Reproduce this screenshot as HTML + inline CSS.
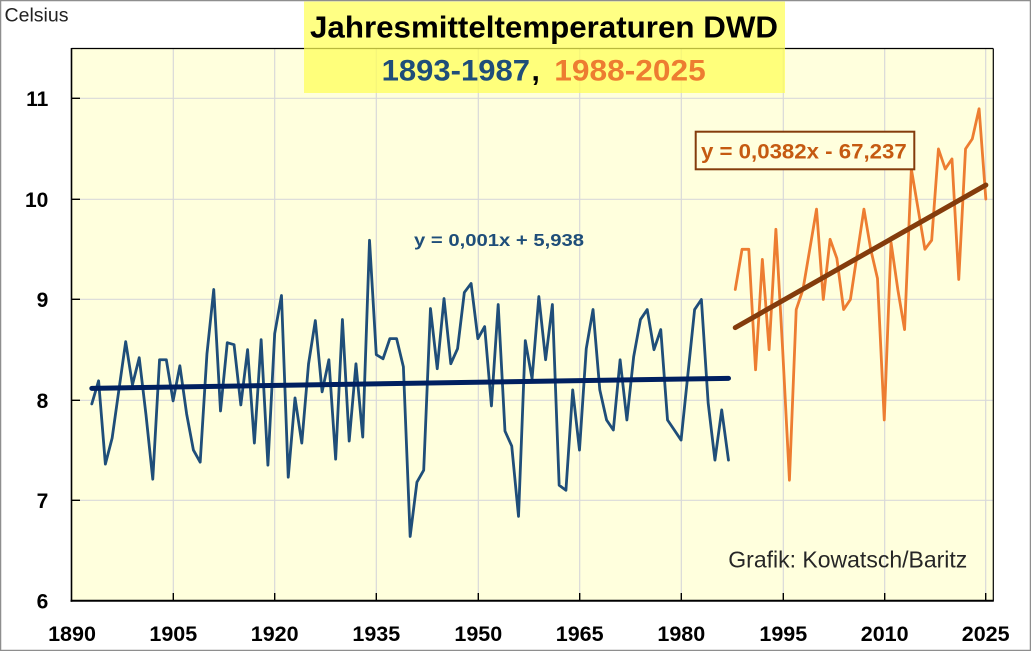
<!DOCTYPE html>
<html><head><meta charset="utf-8"><style>
html,body{margin:0;padding:0;background:#fff;}
svg{display:block;}
text{font-family:"Liberation Sans",Arial,sans-serif;}
</style></head><body>
<svg width="1031" height="651" viewBox="0 0 1031 651" xmlns="http://www.w3.org/2000/svg">
<rect x="0" y="0" width="1031" height="651" fill="#fff"/>
<!-- plot area -->
<rect x="71.5" y="48.5" width="921.8" height="552.2" fill="#FFFFDD"/>
<g stroke="#D9D9D9" stroke-width="1.2">
<line x1="71.5" y1="98.3" x2="993.3" y2="98.3"/>
<line x1="71.5" y1="199.3" x2="993.3" y2="199.3"/>
<line x1="71.5" y1="299.3" x2="993.3" y2="299.3"/>
<line x1="71.5" y1="400.3" x2="993.3" y2="400.3"/>
<line x1="71.5" y1="500.3" x2="993.3" y2="500.3"/>
<line x1="173.3" y1="48.5" x2="173.3" y2="600.7"/>
<line x1="274.7" y1="48.5" x2="274.7" y2="600.7"/>
<line x1="376.3" y1="48.5" x2="376.3" y2="600.7"/>
<line x1="478.3" y1="48.5" x2="478.3" y2="600.7"/>
<line x1="579.7" y1="48.5" x2="579.7" y2="600.7"/>
<line x1="681.3" y1="48.5" x2="681.3" y2="600.7"/>
<line x1="783.3" y1="48.5" x2="783.3" y2="600.7"/>
<line x1="884.7" y1="48.5" x2="884.7" y2="600.7"/>
<line x1="985.7" y1="48.5" x2="985.7" y2="600.7"/>
</g>
<!-- border / axes -->
<line x1="71.5" y1="48.5" x2="993.3" y2="48.5" stroke="#000" stroke-width="1.2"/>
<line x1="993.3" y1="48.5" x2="993.3" y2="600.7" stroke="#000" stroke-width="1.2"/>
<line x1="71.5" y1="48" x2="71.5" y2="601.7" stroke="#000" stroke-width="1.6"/>
<line x1="70.5" y1="600.7" x2="993.8" y2="600.7" stroke="#000" stroke-width="2"/>
<g stroke="#000" stroke-width="1.4">
<line x1="71.5" y1="98.3" x2="80" y2="98.3"/>
<line x1="71.5" y1="199.3" x2="80" y2="199.3"/>
<line x1="71.5" y1="299.3" x2="80" y2="299.3"/>
<line x1="71.5" y1="400.3" x2="80" y2="400.3"/>
<line x1="71.5" y1="500.3" x2="80" y2="500.3"/>
<line x1="173.3" y1="600.7" x2="173.3" y2="593"/>
<line x1="274.7" y1="600.7" x2="274.7" y2="593"/>
<line x1="376.3" y1="600.7" x2="376.3" y2="593"/>
<line x1="478.3" y1="600.7" x2="478.3" y2="593"/>
<line x1="579.7" y1="600.7" x2="579.7" y2="593"/>
<line x1="681.3" y1="600.7" x2="681.3" y2="593"/>
<line x1="783.3" y1="600.7" x2="783.3" y2="593"/>
<line x1="884.7" y1="600.7" x2="884.7" y2="593"/>
<line x1="985.7" y1="600.7" x2="985.7" y2="593"/>
</g>
<!-- data -->
<g transform="matrix(6.773,0,0,-100.4,-12729.47,1203.1)" fill="none" stroke-linejoin="round" stroke-linecap="round">
<polyline vector-effect="non-scaling-stroke" stroke="#1F4E79" stroke-width="2.8" points="1893,7.96 1894,8.19 1895,7.36 1896,7.62 1897,8.10 1898,8.58 1899,8.15 1900,8.42 1901,7.85 1902,7.21 1903,8.40 1904,8.40 1905,7.99 1906,8.34 1907,7.86 1908,7.50 1909,7.38 1910,8.46 1911,9.10 1912,7.89 1913,8.57 1914,8.55 1915,7.95 1916,8.50 1917,7.57 1918,8.60 1919,7.35 1920,8.66 1921,9.04 1922,7.23 1923,8.02 1924,7.57 1925,8.36 1926,8.79 1927,8.08 1928,8.40 1929,7.41 1930,8.80 1931,7.59 1932,8.36 1933,7.63 1934,9.59 1935,8.45 1936,8.41 1937,8.61 1938,8.61 1939,8.33 1940,6.64 1941,7.18 1942,7.30 1943,8.91 1944,8.31 1945,9.01 1946,8.36 1947,8.51 1948,9.07 1949,9.16 1950,8.61 1951,8.73 1952,7.94 1953,8.95 1954,7.69 1955,7.54 1956,6.84 1957,8.59 1958,8.21 1959,9.03 1960,8.40 1961,8.95 1962,7.15 1963,7.10 1964,8.10 1965,7.50 1966,8.51 1967,8.90 1968,8.10 1969,7.80 1970,7.70 1971,8.40 1972,7.80 1973,8.43 1974,8.80 1975,8.90 1976,8.50 1977,8.70 1978,7.80 1979,7.70 1980,7.60 1981,8.25 1982,8.90 1983,9.00 1984,7.97 1985,7.40 1986,7.90 1987,7.40"/>
<polyline vector-effect="non-scaling-stroke" stroke="#ED7D31" stroke-width="2.8" points="1988,9.10 1989,9.50 1990,9.50 1991,8.30 1992,9.40 1993,8.50 1994,9.70 1995,8.50 1996,7.20 1997,8.90 1998,9.10 1999,9.50 2000,9.90 2001,9.00 2002,9.60 2003,9.41 2004,8.90 2005,9.00 2006,9.45 2007,9.90 2008,9.50 2009,9.21 2010,7.80 2011,9.57 2012,9.10 2013,8.70 2014,10.30 2015,9.90 2016,9.50 2017,9.59 2018,10.50 2019,10.30 2020,10.40 2021,9.20 2022,10.50 2023,10.60 2024,10.90 2025,10.00"/>
<polyline vector-effect="non-scaling-stroke" stroke="#002060" stroke-width="5" points="1893,8.115 1987,8.215"/>
<polyline vector-effect="non-scaling-stroke" stroke="#843C0C" stroke-width="5" points="1988,8.72 2025,10.14"/>
</g>
<!-- equations -->
<text x="414" y="246" font-size="17.7" font-weight="bold" fill="#1F4E79" textLength="170" lengthAdjust="spacingAndGlyphs">y = 0,001x + 5,938</text>
<rect x="695.7" y="131.7" width="218.6" height="37.6" fill="#FFFFDD" stroke="#843C0C" stroke-width="2"/>
<text x="701" y="158.3" font-size="21" font-weight="bold" fill="#C55A11" textLength="205.7" lengthAdjust="spacingAndGlyphs">y = 0,0382x - 67,237</text>
<!-- watermark -->
<text x="728.3" y="567.7" font-size="23" fill="#262626" textLength="239" lengthAdjust="spacingAndGlyphs">Grafik: Kowatsch/Baritz</text>
<!-- y labels -->
<g font-size="21" font-weight="bold" fill="#000" text-anchor="end">
<text x="48.3" y="106">11</text>
<text x="48.3" y="207">10</text>
<text x="48.3" y="307">9</text>
<text x="48.3" y="408">8</text>
<text x="48.3" y="508">7</text>
<text x="48.3" y="608.3">6</text>
</g>
<!-- x labels -->
<g font-size="21.5" font-weight="bold" fill="#000" text-anchor="middle">
<text x="72" y="641">1890</text>
<text x="173.3" y="641">1905</text>
<text x="274.7" y="641">1920</text>
<text x="376.3" y="641">1935</text>
<text x="478.3" y="641">1950</text>
<text x="579.7" y="641">1965</text>
<text x="681.3" y="641">1980</text>
<text x="783.3" y="641">1995</text>
<text x="884.7" y="641">2010</text>
<text x="985.7" y="641">2025</text>
</g>
<!-- Celsius -->
<text x="4.5" y="21.7" font-size="19.5" fill="#222" textLength="64" lengthAdjust="spacingAndGlyphs">Celsius</text>
<!-- title box -->
<rect x="304" y="1.5" width="481" height="91.5" fill="#FFFF55" fill-opacity="0.72"/>
<text x="310" y="37.5" font-size="31" font-weight="bold" fill="#000" textLength="468" lengthAdjust="spacingAndGlyphs">Jahresmitteltemperaturen DWD</text>
<text x="381.7" y="80.7" font-size="30" font-weight="bold" fill="#1F4E79" textLength="148.3" lengthAdjust="spacingAndGlyphs">1893-1987</text>
<text x="531.5" y="80.7" font-size="30" font-weight="bold" fill="#000">,</text>
<text x="554.3" y="80.7" font-size="30" font-weight="bold" fill="#ED7D31" textLength="151.4" lengthAdjust="spacingAndGlyphs">1988-2025</text>
<!-- outer border -->
<rect x="0.5" y="0.5" width="1030" height="650" fill="none" stroke="#8E8E8E" stroke-width="1.5"/>
</svg>
</body></html>
